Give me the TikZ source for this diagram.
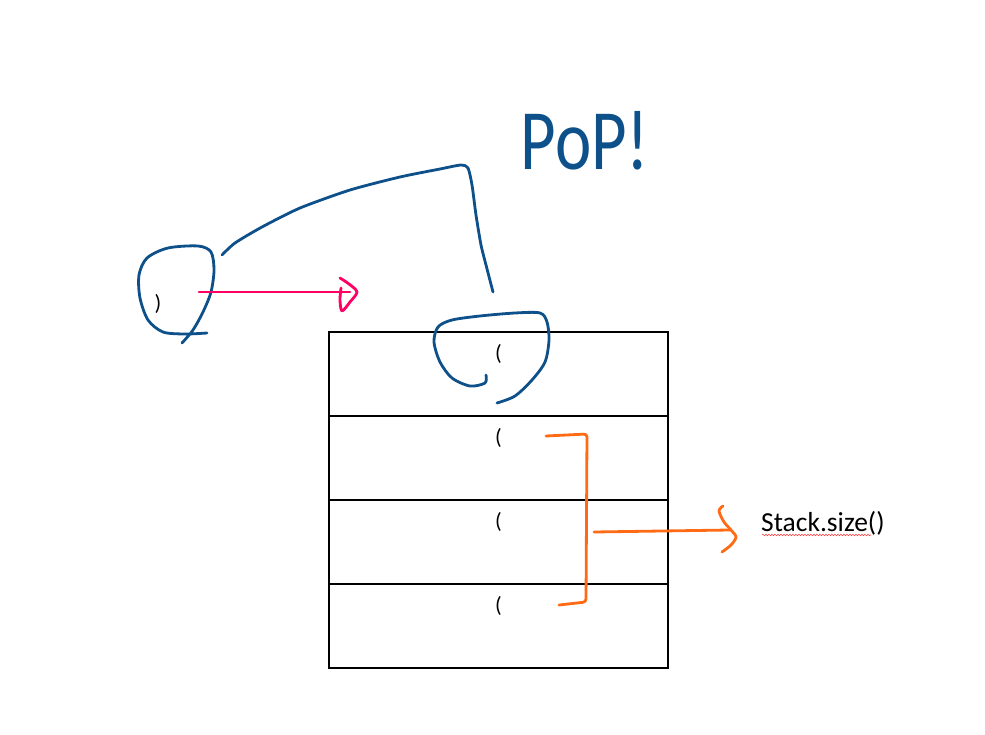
\documentclass[tikz,border=0pt]{standalone}
\usepackage{fontspec}
\setmainfont{Carlito}
\usetikzlibrary{calc}
\usetikzlibrary{positioning}
\usetikzlibrary{decorations.pathmorphing}

\definecolor{penblue}{RGB}{14,80,138}
\definecolor{penpink}{RGB}{255,0,100}
\definecolor{penorange}{RGB}{255,106,20}

\tikzset{
  pen/.style={line width=2.8pt, line cap=round, line join=round},
  cell/.style={draw, line width=1.2pt, minimum width=339pt, minimum height=84pt,
    inner sep=0pt, outer sep=0pt},
  paren/.style={font=\fontsize{22}{22}\selectfont, inner sep=0pt},
}

\begin{document}
\begin{tikzpicture}[x=1pt,y=-1pt]
	\useasboundingbox (0,0) rectangle (985,735);

	%% The stack: four cells, each holding an opening bracket
	\node[cell, anchor=north west] (c1) at (329,332) {};
	\foreach \i [count=\j from 1] in {2,3,4}
	{
	  \node[cell, below=0pt of c\j] (c\i) {};
	}
	\foreach \i in {1,2,...,4}
	{
	  \node[paren, below=12pt of c\i.north] (p\i) {(};
	}

	%% The incoming closing bracket
	\node[paren] (close) at (158,304) {)};

	%% Hand drawn rings (blue)
	\draw[pen, penblue] plot[smooth] coordinates {(207,333) (185,334) (163,332)
	  (148,320) (140,298) (139,275) (147,258) (168,248) (198,246) (211,252)
	  (214,270) (211,292) (203,312) (193,330) (182,343)}; % round ")"
	\draw[pen, penblue] plot[smooth] coordinates {(486,375) (485,383) (470,386)
	  (452,378) (440,362) (434,342) (438,327) (452,320) (480,316) (515,313)
	  (540,313) (547,322) (549,340) (545,362) (532,380) (515,396) (497,403)}; % round top "("

	%% Link between the two rings
	\coordinate (ringL) at (222,255);
	\coordinate (ringR) at (493,292);
	\draw[pen, penblue] plot[smooth, tension=0.4] coordinates {(ringL) (235,243)
	  (262,227) (300,208) (350,190) (400,177) (440,169) (461,165) (468,168)
	  (472,185) (476,215) (481,245) (486,265) (ringR)};

	\node[text=penblue, font=\fontsize{86}{86}\selectfont, inner sep=0pt,
	  anchor=base] (pop) at (585,170) {\scalebox{0.8}[1]{PoP!}};

	%% Push arrow (pink)
	\coordinate (pinkS) at (199,292);
	\coordinate (pinkE) at (350,292);
	\draw[pen, penpink] (pinkS) -- (pinkE);
	\draw[pen, penpink] plot[smooth] coordinates {(340,278) (349,284) (357,292)
	  (350,302) (342,311) (340,300) (341,288)};

	%% Size of the stack (orange)
	\coordinate (brT) at (546,436);
	\coordinate (brB) at (559,605);
	\draw[pen, penorange, rounded corners=3pt] (brT) -- (587,434) -- (586,602) -- (brB);
	\coordinate (orS) at (594,532);
	\coordinate (orE) at (730,530);
	\draw[pen, penorange] (orS) -- (orE);
	\draw[pen, penorange] plot[smooth] coordinates {(723,506) (719,511) (724,522)
	  (731,530) (736,537) (731,545) (722,552)};

	\node[font=\fontsize{27.5}{27.5}\selectfont, anchor=base west, inner sep=0pt]
	  (size) at (761,531) {Stack.size()};
	\draw[red!75, line width=0.6pt, decorate,
	  decoration={snake, amplitude=0.8pt, segment length=3pt}]
	  ($(size.base west)+(1,4)$) -- ($(size.base west)+(110,4)$);
\end{tikzpicture}
\end{document}
